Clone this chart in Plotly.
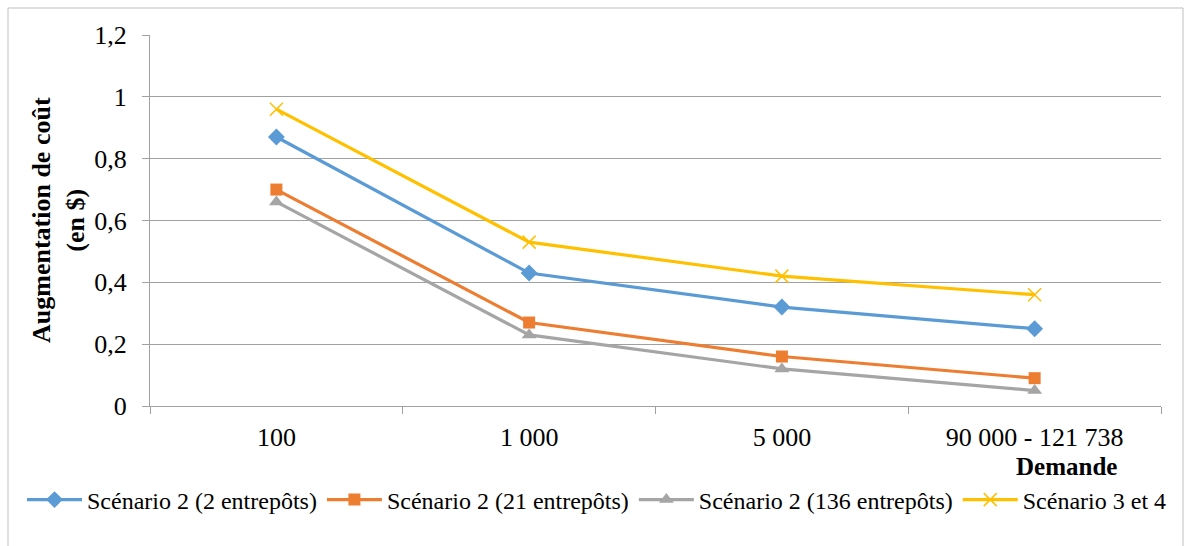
import plotly.graph_objects as go

categories = ["100", "1 000", "5 000", "90 000 - 121 738"]
s2_2 = [0.87, 0.43, 0.32, 0.25]
s2_21 = [0.70, 0.27, 0.16, 0.09]
s2_136 = [0.66, 0.23, 0.12, 0.05]
s34 = [0.96, 0.53, 0.42, 0.36]
names = ["Scénario 2 (2 entrepôts)", "Scénario 2 (21 entrepôts)",
         "Scénario 2 (136 entrepôts)", "Scénario 3 et 4"]
y_ticks = [0, 0.2, 0.4, 0.6, 0.8, 1, 1.2]

W, H = 1189, 546
L, R, T, B = 150, 28, 35, 140
pw, ph = W - L - R, H - T - B

def px2paper(x, y):
    return (x - L) / pw, (H - B - y) / ph

fig = go.Figure()
specs = [
    (s2_2, "#5B9BD5", dict(symbol="diamond", size=13)),
    (s2_21, "#ED7D31", dict(symbol="square", size=12)),
    (s2_136, "#A5A5A5", dict(symbol="triangle-up", size=13)),
    (s34, "#FFC000", dict(symbol="x-thin-open", size=13, line=dict(width=1.5, color="#FFC000"))),
]
for (vals, col, mk), nm in zip(specs, names):
    m = dict(color=col, **mk)
    fig.add_trace(go.Scatter(x=categories, y=vals, name=nm, mode="lines+markers",
                             line=dict(color=col, width=3.2), marker=m))

x0, y0 = px2paper(8, 8)
x1, y1 = px2paper(1183, 560)
fig.add_shape(type="rect", xref="paper", yref="paper", x0=x0, y0=y1, x1=x1, y1=y0,
              line=dict(color="#BFBFBF", width=1), layer="below")

ax, ay = px2paper(58, 220)
fig.add_annotation(text="<b>Augmentation de coût<br>(en $)</b>", textangle=-90,
                   xref="paper", yref="paper", x=ax, y=ay, showarrow=False,
                   xanchor="center", yanchor="middle",
                   font=dict(family="Liberation Serif", size=26, color="black"))
dx, dy = px2paper(1066, 466)
fig.add_annotation(text="<b>Demande</b>", xref="paper", yref="paper", x=dx, y=dy,
                   showarrow=False, xanchor="center", yanchor="middle",
                   font=dict(family="Liberation Serif", size=25, color="black"))

fig.update_layout(
    width=W, height=H, margin=dict(l=L, r=R, t=T, b=B, autoexpand=False),
    paper_bgcolor="white", plot_bgcolor="white",
    separators=", ",
    font=dict(family="Liberation Serif", size=26, color="black"),
    showlegend=True,
    legend=dict(orientation="h", x=px2paper(22, 0)[0], xanchor="left",
                y=px2paper(0, 500)[1], yanchor="middle",
                font=dict(family="Liberation Serif", size=24), itemwidth=55, tracegroupgap=0,
                bgcolor="rgba(0,0,0,0)"),
    xaxis=dict(type="category", range=[-0.5, 3.5], showgrid=False, showline=True,
               linecolor="#A0A0A0", linewidth=1, ticks="outside", tickson="boundaries",
               ticklen=7, tickcolor="#A0A0A0",
               tickfont=dict(family="Liberation Serif", size=26), ticklabelstandoff=8),
    yaxis=dict(range=[0, 1.2], tickvals=y_ticks, showgrid=True, gridcolor="#A0A0A0",
               gridwidth=1, showline=True, linecolor="#A0A0A0", ticks="outside",
               ticklen=7, tickcolor="#A0A0A0", zeroline=False,
               tickfont=dict(family="Liberation Serif", size=26), ticklabelstandoff=10),
)
fig.write_html("out.html")
